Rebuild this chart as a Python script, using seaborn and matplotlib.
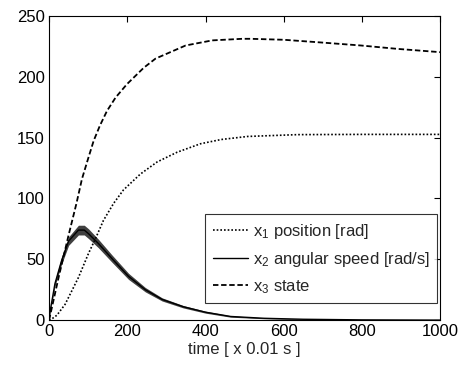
import matplotlib
matplotlib.use('Agg')
import matplotlib.pyplot as plt
import numpy as np
import seaborn as sns

# values (time in units of 0.01 s)
t_x1 = [0, 7, 20, 41, 75, 101, 120, 139, 165, 190, 233, 276, 327, 387, 440, 507, 635, 800, 1000]
x1 = [0, 1, 4, 13, 35, 55, 68, 82, 96, 107, 120, 130, 138, 145, 148.5, 151, 152.5, 152.7, 152.7]

t_x2 = [0, 3, 15, 32, 50, 75, 90, 101, 126, 161, 203, 246, 289, 343, 400, 464, 550, 650, 800, 1000]
x2 = [0, 8, 30, 49, 65, 74, 74, 71, 63, 50.5, 36, 25, 17, 11, 6.5, 3, 1.5, 0.7, 0.2, 0]
# half width of the jitter band around x2
x2_spread = [0, 1, 2, 3, 3.5, 4, 4, 4, 3.5, 3, 2.5, 1.8, 1.3, 1, 0.8, 0.6, 0.4, 0.3, 0.2, 0]

t_x3 = [0, 25, 50, 70, 84, 100, 114, 130, 148, 170, 199, 242, 272, 349, 417, 494, 515, 600, 686, 797, 891, 1000]
x3 = [0, 36, 70, 96, 116, 133, 147.5, 160, 172, 183, 194, 207.5, 215, 225.8, 230, 231.3, 231.3, 230.5, 228.5, 225.8, 223, 220.3]

labels = [r'$\mathregular{x_1}$ position [rad]',
          r'$\mathregular{x_2}$ angular speed [rad/s]',
          r'$\mathregular{x_3}$ state']

sns.set_style('white')
plt.rcParams['font.family'] = ['Liberation Sans', 'DejaVu Sans']
plt.rcParams['mathtext.fontset'] = 'custom'
plt.rcParams['mathtext.rm'] = 'Liberation Sans'
plt.rcParams['mathtext.it'] = 'Liberation Sans'

fig = plt.figure(figsize=(4.63, 3.65), dpi=100)
ax = fig.add_axes([0.106, 0.123, 0.845, 0.833])

lo = np.array(x2) - np.array(x2_spread)
hi = np.array(x2) + np.array(x2_spread)
ax.fill_between(t_x2, lo, hi, color='0.25', lw=0)

sns.lineplot(x=t_x1, y=x1, ax=ax, color='black', lw=1.2, linestyle=(0, (1, 1.2)), label=labels[0])
sns.lineplot(x=t_x2, y=x2, ax=ax, color='black', lw=1.0, linestyle='-', label=labels[1])
sns.lineplot(x=t_x3, y=x3, ax=ax, color='black', lw=1.3, linestyle=(0, (3, 1.5)), label=labels[2])

ax.set_xlim(0, 1000)
ax.set_ylim(0, 250)
ax.set_xticks([0, 200, 400, 600, 800, 1000])
ax.set_yticks([0, 50, 100, 150, 200, 250])
ax.tick_params(direction='in', top=True, right=True, length=4, width=0.8,
               labelsize=12, colors='black', pad=3)
for s in ax.spines.values():
    s.set_color('black')
    s.set_linewidth(0.8)
ax.set_xlabel('time [ x 0.01 s ]', fontsize=12, labelpad=2)
ax.set_ylabel('')

leg = ax.legend(loc='lower right', bbox_to_anchor=(0.992, 0.055), fontsize=12,
                frameon=True, fancybox=False, handlelength=2.1, handletextpad=0.3,
                borderpad=0.45, labelspacing=0.55, borderaxespad=0)
leg.get_frame().set_edgecolor('black')
leg.get_frame().set_linewidth(0.8)

fig.savefig('out.png', dpi=100)
